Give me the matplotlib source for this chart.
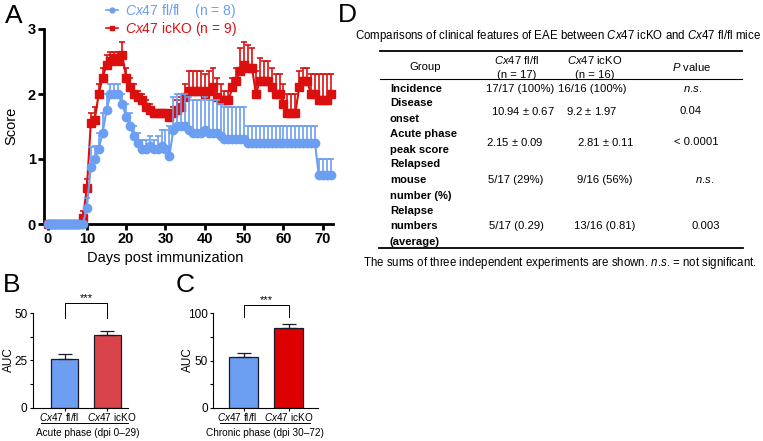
import numpy as np
import matplotlib
matplotlib.use('Agg')
import matplotlib.pyplot as plt
from matplotlib.lines import Line2D

plt.rcParams['font.family'] = 'Liberation Sans'
plt.rcParams['mathtext.fontset'] = 'custom'
plt.rcParams['mathtext.rm'] = 'Liberation Sans'
plt.rcParams['mathtext.it'] = 'Liberation Sans:italic'
plt.rcParams['mathtext.bf'] = 'Liberation Sans:bold'

W, H = 763, 441

# ---- data: clinical score (panel A) ----
days = np.arange(0, 73)
flfl_score = [0]*10 + [0.25, 0.88, 1.0, 1.15, 1.4, 1.75, 2.0, 2.0, 2.0, 1.85,
                       1.65, 1.5, 1.35, 1.25, 1.15, 1.15, 1.2, 1.15, 1.15, 1.2,
                       1.15, 1.05, 1.45, 1.5, 1.5, 1.5, 1.45, 1.4, 1.4, 1.4,
                       1.45, 1.4, 1.4, 1.4, 1.35, 1.3, 1.3, 1.3, 1.3, 1.3,
                       1.3] + [1.25]*18 + [0.75]*4
flfl_sem = [0]*10 + [0.15, 0.3, 0.2, 0.25, 0.3, 0.25, 0.15, 0.15, 0.15, 0.15,
                     0.2, 0.2, 0.15, 0.15, 0.15, 0.15, 0.15, 0.15, 0.2, 0.25,
                     0.3, 0.45] + [0.5]*19 + [0.25]*22
icko_score = [0]*9 + [0.1, 0.55, 1.55, 1.6, 2.0, 2.25, 2.45, 2.5, 2.55, 2.5,
                      2.6, 2.25, 2.1, 2.0, 1.95, 1.9, 1.8, 1.75, 1.7, 1.7,
                      1.7, 1.7, 1.65, 1.7, 1.75, 1.8, 1.95, 2.05, 2.05, 2.05,
                      2.05, 2.0, 2.05, 2.1, 1.95, 1.9, 1.9, 1.9, 2.1, 2.2,
                      2.35, 2.45, 2.4, 2.4, 2.0, 2.2, 2.2, 2.2, 2.1, 2.0,
                      2.0, 1.85, 1.7, 1.7, 1.7, 2.1, 2.2, 2.2, 2.0, 2.0,
                      1.9, 1.9, 1.9, 2.0]
icko_sem = [0]*9 + [0.1, 0.15, 0.15, 0.2, 0.15, 0.15, 0.15, 0.15, 0.1, 0.15,
                    0.2, 0.15, 0.15, 0.15, 0.1, 0.1, 0.1, 0.1, 0.05, 0.05,
                    0.05, 0.05, 0.05, 0.1, 0.15, 0.15, 0.2, 0.3, 0.3, 0.3,
                    0.3, 0.3, 0.3, 0.3, 0.3, 0.25, 0.15, 0.15, 0.15, 0.2,
                    0.35, 0.35, 0.35, 0.3, 0.35, 0.35, 0.3, 0.3, 0.3, 0.3,
                    0.3, 0.3, 0.3, 0.3, 0.3, 0.25, 0.2, 0.2, 0.3, 0.3,
                    0.4, 0.4, 0.4, 0.3]

# ---- data: AUC (panels B, C) ----
groups = [r'$\it{Cx47}$ fl/fl', r'$\it{Cx47}$ icKO']
acute_auc = [25.6, 38.2]
acute_sem = [2.7, 2.1]
chronic_auc = [53.4, 84.8]
chronic_sem = [4.2, 3.5]

# ---- data: table (panel D) ----
NS = r'$\it{n}$.$\it{s}$.'
row_labels = ['Incidence', 'Disease\nonset', 'Acute phase\npeak score',
              'Relapsed\nmouse\nnumber (%)', 'Relapse\nnumbers\n(average)']
col_flfl = ['17/17 (100%)', '10.94 $\\pm$ 0.67', '2.15 $\\pm$ 0.09',
            '5/17 (29%)', '5/17 (0.29)']
col_icko = ['16/16 (100%)', '9.2 $\\pm$ 1.97', '2.81 $\\pm$ 0.11',
            '9/16 (56%)', '13/16 (0.81)']
col_p = [NS, '0.04', '< 0.0001', NS, '0.003']

BLUE = '#6c9ef2'
RED = '#dc0f0f'


def box(l, t, r, b):
    return [l / W, 1 - b / H, (r - l) / W, (b - t) / H]


def fpt(x, y):
    return x / W, 1 - y / H


fig = plt.figure(figsize=(W / 100, H / 100), dpi=100)

# ================= panel A =================
ax = fig.add_axes(box(44, 29, 333, 224))
for sc, se, col, mk, ms, z in [(icko_score, icko_sem, RED, 's', 5.5, 3),
                               (flfl_score, flfl_sem, BLUE, 'o', 6, 4)]:
    cont = ax.errorbar(days, sc, yerr=[np.zeros(len(se)), se], fmt='-' + mk,
                       color=col, ms=ms, lw=1.5, elinewidth=1.2, capsize=2.2,
                       capthick=1.2, zorder=z)
    for art in [cont.lines[0]] + list(cont.lines[1]) + list(cont.lines[2]):
        art.set_clip_on(False)
ax.set_xlim(-0.9, 72.6)
ax.set_ylim(0, 3)
ax.set_xticks(range(0, 71, 10))
ax.set_yticks([0, 1, 2, 3])
for s in ['top', 'right']:
    ax.spines[s].set_visible(False)
for s in ['left', 'bottom']:
    ax.spines[s].set_linewidth(2)
ax.tick_params(width=2, length=4, labelsize=10.5, pad=2)
for lab in ax.get_xticklabels() + ax.get_yticklabels():
    lab.set_fontweight('bold')
fig.text(*fpt(165, 258), 'Days post immunization', fontsize=10.5, ha='center', va='center')
fig.text(*fpt(11, 126), 'Score', fontsize=10.5, rotation=90, ha='center', va='center')

handles = [Line2D([], [], color=BLUE, marker='o', ms=3.5, lw=1.2),
           Line2D([], [], color=RED, marker='s', ms=3.5, lw=1.2)]
labels = [r'$\it{Cx47}$ fl/fl    (n = 8)', r'$\it{Cx47}$ icKO (n = 9)']
fig.legend(handles, labels, loc='upper left', bbox_to_anchor=fpt(99, -5),
           frameon=False, fontsize=10, handlelength=0.9, handletextpad=0.45,
           labelspacing=0.0, borderpad=0, labelcolor=[BLUE, RED])

# ================= panels B, C =================
def auc_panel(rect, vals, sems, colors, ylim, ticks, minor, xl, br, lab_x, phase, ul, ph_x):
    a = fig.add_axes(rect)
    a.bar([0, 1], vals, width=0.65, color=colors, edgecolor='#1a1a2a', linewidth=0.9,
          yerr=[[0, 0], sems], capsize=5, error_kw=dict(lw=0.9, capthick=0.9, ecolor='#1a1a2a'))
    a.set_xlim(*xl)
    a.set_ylim(*ylim)
    a.set_yticks(ticks)
    a.set_yticks(minor, minor=True)
    a.set_xticks([0, 1])
    a.set_xticklabels([])
    a.tick_params(axis='x', length=2.5, width=0.8)
    a.tick_params(axis='y', which='both', length=2.5, width=0.8, labelsize=8.5, pad=1.5)
    for s in ['top', 'right']:
        a.spines[s].set_visible(False)
    for s in ['left', 'bottom']:
        a.spines[s].set_linewidth(0.8)
    for g, lx in zip(groups, lab_x):
        a.text(lx, -0.1, g, transform=a.transAxes, fontsize=7.2, ha='center', va='center')
    a.plot([0, 0, 1, 1], br, color='black', lw=0.7, clip_on=False)
    a.text(0.5, br[1], '***', ha='center', va='bottom', fontsize=8, clip_on=False)
    a.plot(ul, [-0.16, -0.16], color='black', lw=0.7, transform=a.transAxes, clip_on=False)
    a.text(ph_x, -0.27, phase, transform=a.transAxes, fontsize=7.2, ha='center', va='center')
    return a

auc_panel(box(33, 313, 128, 407.7), acute_auc, acute_sem, [BLUE, '#d8444a'],
          (0, 50), [0, 25, 50], [12.5, 37.5], (-0.733, 1.477),
          [47.4, 55.3, 55.3, 47.4], [0.274, 0.83], 'Acute phase (dpi 0\u201329)', [0.08, 1.0], 0.58)
auc_panel(box(213.3, 313.3, 318, 407.7), chronic_auc, chronic_sem, [BLUE, '#dc0000'],
          (0, 100), [0, 50, 100], [25, 75], (-0.674, 1.647),
          [96, 108.8, 108.8, 96], [0.231, 0.718], 'Chronic phase (dpi 30\u201372)', [0.064, 0.924], 0.495)
fig.text(*fpt(9, 360), 'AUC', fontsize=8.5, rotation=90, ha='center', va='center')
fig.text(*fpt(188, 360), 'AUC', fontsize=8.5, rotation=90, ha='center', va='center')

# panel letters
for x, y, t in [(14, 16, 'A'), (12, 285, 'B'), (185, 285, 'C'), (347, 15, 'D')]:
    fig.text(*fpt(x, y), t, fontsize=19, ha='center', va='center')

# ================= panel D (table) =================
fs = 8.1
fig.text(*fpt(558, 36), r'Comparisons of clinical features of EAE between $\it{Cx47}$ icKO and $\it{Cx47}$ fl/fl mice',
         fontsize=8.3, ha='center', va='center')
fig.add_artist(Line2D([380 / W, 742 / W], [1 - 50.7 / H] * 2, color='black', lw=1.3))
fig.add_artist(Line2D([380 / W, 742 / W], [1 - 79 / H] * 2, color='black', lw=0.8))
fig.add_artist(Line2D([379 / W, 743 / W], [1 - 247.7 / H] * 2, color='black', lw=1.3))
fig.text(*fpt(425, 66.7), 'Group', fontsize=fs, ha='center', va='center')
fig.text(*fpt(517, 66.7), '$\\it{Cx47}$ fl/fl\n(n = 17)', fontsize=fs, ha='center', va='center',
         linespacing=1.45)
fig.text(*fpt(595, 66.7), '$\\it{Cx47}$ icKO\n(n = 16)', fontsize=fs, ha='center', va='center',
         linespacing=1.45)
fig.text(*fpt(692, 66.7), r'$\it{P}$ value', fontsize=fs, ha='center', va='center')

row_y = [89.3, 110.8, 142, 180, 226.2]
x_flfl = [520, 523, 515, 516, 516]
x_icko = [592, 592, 606, 605, 605]
x_p = [693, 690, 696, 705, 706]
for i in range(len(row_labels)):
    fig.text(*fpt(390, row_y[i]), row_labels[i], fontsize=fs, fontweight='bold',
             ha='left', va='center', linespacing=1.7)
    fig.text(*fpt(x_flfl[i], row_y[i]), col_flfl[i], fontsize=fs, ha='center', va='center')
    fig.text(*fpt(x_icko[i], row_y[i]), col_icko[i], fontsize=fs, ha='center', va='center')
    fig.text(*fpt(x_p[i], row_y[i]), col_p[i], fontsize=fs, ha='center', va='center')

fig.text(*fpt(560, 263), r'The sums of three independent experiments are shown. ' + NS + ' = not significant.',
         fontsize=8.3, ha='center', va='center')

fig.savefig('out.png', dpi=100)
